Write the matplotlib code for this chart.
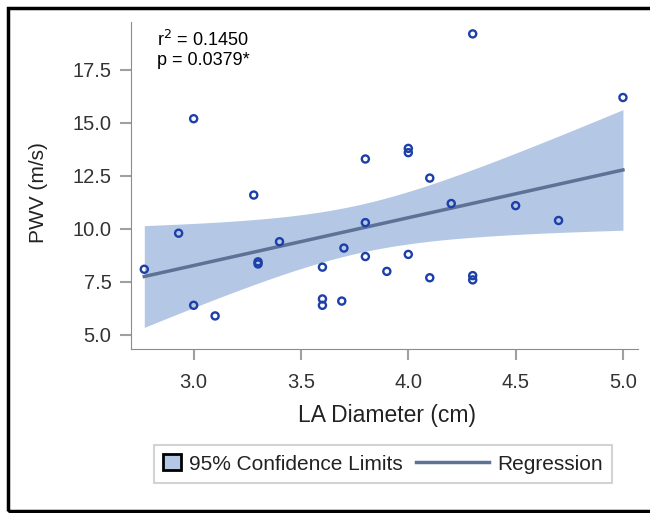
import numpy as np
import matplotlib
matplotlib.use("Agg")
import matplotlib.pyplot as plt
from matplotlib.patches import Rectangle
from matplotlib.legend_handler import HandlerPatch

plt.rcParams['font.family'] = ['Liberation Sans', 'DejaVu Sans']

# LA diameter (cm) and PWV (m/s)
la_diam = [4.3, 5.0, 3.0, 3.8, 4.0, 4.0, 4.1, 3.28, 4.2, 4.5,
           4.7, 3.8, 2.93, 3.4, 3.7, 3.3, 3.3, 3.8, 4.0, 3.6,
           2.77, 3.9, 4.1, 4.3, 4.3, 3.6, 3.6, 3.69, 3.0, 3.1]
pwv = [19.2, 16.2, 15.2, 13.3, 13.8, 13.6, 12.4, 11.6, 11.2, 11.1,
       10.4, 10.3, 9.8, 9.4, 9.1, 8.35, 8.45, 8.7, 8.8, 8.2,
       8.1, 8.0, 7.7, 7.8, 7.6, 6.7, 6.4, 6.6, 6.4, 5.9]
stats_text = ["r$^2$ = 0.1450", "p = 0.0379*"]
x_ticks = [3.0, 3.5, 4.0, 4.5, 5.0]
y_ticks = [5.0, 7.5, 10.0, 12.5, 15.0, 17.5]


class SquareHandler(HandlerPatch):
    # square legend key instead of a wide one
    def legend_artist(self, legend, orig_handle, fontsize, handlebox):
        handlebox.width = 1.1 * handlebox.height
        return super().legend_artist(legend, orig_handle, fontsize, handlebox)


x = np.array(la_diam)
y = np.array(pwv)
n = len(x)
slope, icpt = np.polyfit(x, y, 1)
xs = np.linspace(x.min(), x.max(), 200)
fit = icpt + slope * xs
resid = y - (icpt + slope * x)
s = np.sqrt(np.sum(resid ** 2) / (n - 2))
t_val = 2.048  # t(0.975, df=28)
half = t_val * s * np.sqrt(1 / n + (xs - x.mean()) ** 2 / np.sum((x - x.mean()) ** 2))

fig = plt.figure(figsize=(6.5, 5.13), dpi=100)
ax = fig.add_axes([0.2015, 0.3197, 0.78, 0.6374])

band = ax.fill_between(xs, fit - half, fit + half, color='#b4c8e6', lw=0)
line, = ax.plot(xs, fit, color='#5d7296', lw=2.5)
ax.scatter(x, y, s=26, facecolors='none', edgecolors='#1c3fa8', linewidths=1.7, zorder=3)

ax.set_xlim(2.708, 5.07)
ax.set_ylim(4.34, 19.76)
ax.set_xticks(x_ticks)
ax.set_yticks(y_ticks)
ax.set_xticklabels(['%.1f' % v for v in x_ticks])
ax.set_yticklabels(['%.1f' % v for v in y_ticks])
for sp in ['top', 'right']:
    ax.spines[sp].set_visible(False)
for sp in ['left', 'bottom']:
    ax.spines[sp].set_color('#8c8c8c')
ax.tick_params(colors='#a0a0a0', labelcolor='#333333', labelsize=14.5, length=8, width=1.5)
ax.tick_params(axis='x', pad=9)
ax.tick_params(axis='y', pad=6)

ax.set_xlabel('LA Diameter (cm)', fontsize=16.5, color='#222222', va='center')
ax.set_ylabel('PWV (m/s)', fontsize=15, color='#222222', va='center')
ax.xaxis.set_label_coords(0.505, -0.202)
ax.yaxis.set_label_coords(-0.1815, 0.477)

ax.text(0.051, 0.975, '\n'.join(stats_text), transform=ax.transAxes, fontsize=13,
        va='top', ha='left', linespacing=1.1)

key = Rectangle((0, 0), 1, 1, facecolor='#b4c8e6', edgecolor='black', lw=2)
leg = fig.legend([key, line], ['95% Confidence Limits', 'Regression'], loc='center',
                 bbox_to_anchor=(383 / 650, 1 - 464 / 513), ncol=2, fontsize=15,
                 frameon=True, fancybox=False, edgecolor='#c8c8c8', borderpad=0.45,
                 handlelength=3.5, handleheight=0.8, columnspacing=0.65, handletextpad=0.4,
                 handler_map={Rectangle: SquareHandler()})
leg.get_frame().set_linewidth(1.5)
for t in leg.get_texts():
    t.set_color('#222222')

fig.patches.append(Rectangle((8 / 650, 2 / 513), 1.0, 1 - 10 / 513, transform=fig.transFigure,
                             fill=False, edgecolor='black', lw=2.5))

fig.savefig('out.png', dpi=100)
